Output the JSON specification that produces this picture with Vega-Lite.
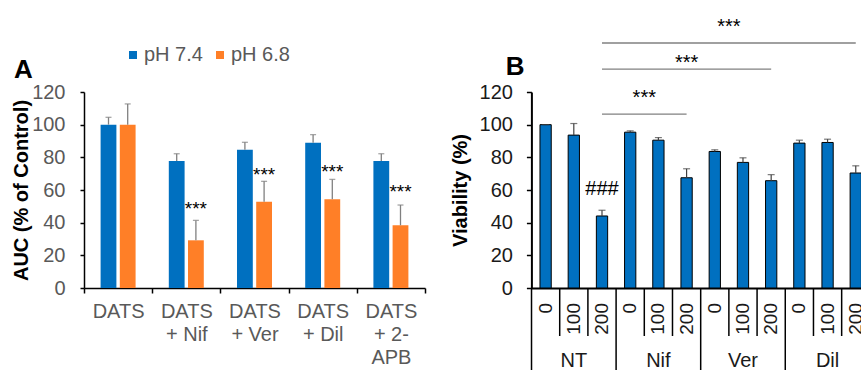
{
  "$schema": "https://vega.github.io/schema/vega-lite/v6.json",
  "background": "white",
  "padding": {"left": 11, "top": 16, "right": 0, "bottom": 0},
  "bounds": "flush",
  "spacing": 106.4,
  "config": {"font": "Liberation Sans", "view": {"stroke": null}, "axis": {"grid": false, "labelOverlap": false}, "axisY": {"labelOverlap": false}, "axisQuantitative": {"labelOverlap": false}},
  "datasets": {
    "auc": [
      {"g": "DATS", "ph": "pH 7.4", "v": 100, "hi": 104.5},
      {"g": "DATS", "ph": "pH 6.8", "v": 100, "hi": 112.7},
      {"g": "DATS\n+ Nif", "ph": "pH 7.4", "v": 77.8, "hi": 82.2},
      {"g": "DATS\n+ Nif", "ph": "pH 6.8", "v": 29.2, "hi": 41.4, "star": "***", "sy": 44.8},
      {"g": "DATS\n+ Ver", "ph": "pH 7.4", "v": 84.7, "hi": 89.2},
      {"g": "DATS\n+ Ver", "ph": "pH 6.8", "v": 52.8, "hi": 65.3, "star": "***", "sy": 65.5},
      {"g": "DATS\n+ Dil", "ph": "pH 7.4", "v": 89.0, "hi": 93.9},
      {"g": "DATS\n+ Dil", "ph": "pH 6.8", "v": 54.3, "hi": 66.5, "star": "***", "sy": 67.5},
      {"g": "DATS\n+ 2-\nAPB", "ph": "pH 7.4", "v": 77.8, "hi": 82.2},
      {"g": "DATS\n+ 2-\nAPB", "ph": "pH 6.8", "v": 38.4, "hi": 50.8, "star": "***", "sy": 55.2}
    ],
    "via": [
      {"grp": "NT", "conc": "0", "cat": "NT 0", "v": 100, "hi": 100},
      {"grp": "NT", "conc": "100", "cat": "NT 100", "v": 93.6, "hi": 100.7},
      {"grp": "NT", "conc": "200", "cat": "NT 200", "v": 44.1, "hi": 47.6, "note": "###", "ny": 57},
      {"grp": "Nif", "conc": "0", "cat": "Nif 0", "v": 95.4, "hi": 96.2},
      {"grp": "Nif", "conc": "100", "cat": "Nif 100", "v": 90.5, "hi": 92.1},
      {"grp": "Nif", "conc": "200", "cat": "Nif 200", "v": 67.5, "hi": 73.0},
      {"grp": "Ver", "conc": "0", "cat": "Ver 0", "v": 83.6, "hi": 84.6},
      {"grp": "Ver", "conc": "100", "cat": "Ver 100", "v": 76.9, "hi": 79.7},
      {"grp": "Ver", "conc": "200", "cat": "Ver 200", "v": 65.7, "hi": 69.4},
      {"grp": "Dil", "conc": "0", "cat": "Dil 0", "v": 88.7, "hi": 90.5},
      {"grp": "Dil", "conc": "100", "cat": "Dil 100", "v": 89.1, "hi": 91.1},
      {"grp": "Dil", "conc": "200", "cat": "Dil 200", "v": 70.4, "hi": 74.8}
    ],
    "sig": [
      {"from": "NT 200", "to": "Nif 200", "ly": 106.4, "mid": "Nif 100", "at": "edge", "sy": 112.6, "label": "***"},
      {"from": "NT 200", "to": "Ver 200", "ly": 134, "mid": "Nif 200", "at": "center", "sy": 133.8, "label": "***"},
      {"from": "NT 200", "to": "Dil 200", "ly": 150, "mid": "Ver 100", "at": "edge", "sy": 156.3, "label": "***"}
    ]
  },
  "hconcat": [
    {
      "width": 341,
      "height": 196,
      "title": {"text": "A", "anchor": "start", "frame": "group", "fontSize": 26, "fontWeight": "bold", "color": "#000", "dx": -70, "dy": 22, "offset": 0, "baseline": "alphabetic"},
      "data": {"name": "auc"},
      "encoding": {
        "x": {
          "field": "g", "type": "nominal",
          "scale": {"domain": ["DATS", "DATS\n+ Nif", "DATS\n+ Ver", "DATS\n+ Dil", "DATS\n+ 2-\nAPB"], "paddingInner": 0, "paddingOuter": 0},
          "axis": {"title": null, "labelAngle": 0, "labelExpr": "split(datum.label, '\\n')", "labelFontSize": 20, "labelColor": "#595959", "labelLineHeight": 23.3, "labelPadding": 8, "labelBaseline": "top", "labelOverlap": false, "tickBand": "extent", "tickSize": 5, "tickColor": "#000", "tickWidth": 1.5, "domainColor": "#000", "domainWidth": 1.5}
        },
        "xOffset": {"field": "ph", "type": "nominal", "scale": {"domain": ["pH 7.4", "pH 6.8"], "paddingInner": 0.177, "paddingOuter": 0.865}}
      },
      "layer": [
        {
          "mark": {"type": "bar"},
          "encoding": {
            "y": {"field": "v", "type": "quantitative", "scale": {"domain": [0, 120], "nice": false},
              "axis": {"title": "AUC (% of Control)", "titleFontSize": 20, "titleFontWeight": "bold", "titleColor": "#000", "titlePadding": 0, "tickCount": 7, "labelOverlap": false, "labelFontSize": 20, "labelColor": "#595959", "labelPadding": 15, "tickSize": 4, "tickColor": "#000", "tickWidth": 1.5, "domainColor": "#000", "domainWidth": 1.5}},
            "color": {"field": "ph", "type": "nominal", "scale": {"domain": ["pH 7.4", "pH 6.8"], "range": ["#0070C0", "#FF7F27"]},
              "legend": {"orient": "none", "legendX": 39, "legendY": -47, "direction": "horizontal", "title": null, "symbolType": "square", "symbolSize": 64, "symbolStrokeWidth": 0, "labelFontSize": 20, "labelColor": "#595959", "labelOffset": 1, "columnPadding": 7}}
          }
        },
        {
          "mark": {"type": "rule", "color": "#808080", "strokeWidth": 1.3},
          "encoding": {"y": {"field": "v", "type": "quantitative"}, "y2": {"field": "hi"}}
        },
        {
          "mark": {"type": "tick", "color": "#808080", "thickness": 1.3, "size": 6, "orient": "horizontal"},
          "encoding": {"y": {"field": "hi", "type": "quantitative"}}
        },
        {
          "transform": [{"filter": "datum.star"}],
          "mark": {"type": "text", "fontSize": 19, "color": "#000", "baseline": "alphabetic"},
          "encoding": {"y": {"field": "sy", "type": "quantitative"}, "text": {"field": "star"}}
        }
      ]
    },
    {
      "width": 330,
      "height": 196,
      "title": {"text": "B", "anchor": "start", "frame": "group", "fontSize": 26, "fontWeight": "bold", "color": "#000", "dx": -25.7, "dy": 84, "offset": 0, "baseline": "alphabetic"},
      "data": {"name": "via"},
      "encoding": {
        "x": {
          "field": "cat", "type": "nominal",
          "scale": {"domain": ["NT 0", "NT 100", "NT 200", "Nif 0", "Nif 100", "Nif 200", "Ver 0", "Ver 100", "Ver 200", "Dil 0", "Dil 100", "Dil 200"], "paddingInner": 0.6, "paddingOuter": 0.152, "align": 1},
          "axis": {"title": null, "labels": false, "ticks": false, "domainColor": "#000", "domainWidth": 2}
        }
      },
      "layer": [
        {
          "mark": {"type": "bar", "color": "#0070C0", "stroke": "#000", "strokeWidth": 1},
          "encoding": {
            "y": {"field": "v", "type": "quantitative", "scale": {"domain": [0, 120], "nice": false},
              "axis": {"title": "Viability (%)", "titleFontSize": 20, "titleFontWeight": "bold", "titleColor": "#000", "titlePadding": 9, "tickCount": 7, "labelOverlap": false, "labelFontSize": 20, "labelColor": "#1a1a1a", "labelPadding": 14, "tickSize": 5, "tickColor": "#000", "tickWidth": 1.5, "domainColor": "#000", "domainWidth": 2}}
          }
        },
        {
          "mark": {"type": "rule", "color": "#404040", "strokeWidth": 1.2},
          "encoding": {"y": {"field": "v", "type": "quantitative"}, "y2": {"field": "hi"}}
        },
        {
          "mark": {"type": "tick", "color": "#404040", "thickness": 1.2, "size": 7, "orient": "horizontal"},
          "encoding": {"y": {"field": "hi", "type": "quantitative"}}
        },
        {
          "transform": [{"filter": "datum.note"}],
          "mark": {"type": "text", "fontSize": 20, "color": "#000", "baseline": "alphabetic"},
          "encoding": {"y": {"field": "ny", "type": "quantitative"}, "text": {"field": "note"}}
        },
        {
          "mark": {"type": "text", "angle": 270, "align": "right", "baseline": "middle", "fontSize": 19, "color": "#1a1a1a"},
          "encoding": {"y": {"datum": -9.2, "type": "quantitative"}, "text": {"field": "conc"}}
        },
        {
          "transform": [{"filter": "datum.conc != '0'"}],
          "mark": {"type": "rule", "color": "#000", "strokeWidth": 1.5},
          "encoding": {"x": {"field": "cat", "type": "nominal", "bandPosition": -0.75}, "y": {"datum": 0, "type": "quantitative"}, "y2": {"datum": -29.4}}
        },
        {
          "transform": [{"filter": "datum.conc == '0'"}],
          "mark": {"type": "rule", "color": "#000", "strokeWidth": 1.5},
          "encoding": {"x": {"field": "cat", "type": "nominal", "bandPosition": -0.75}, "y": {"datum": 0, "type": "quantitative"}, "y2": {"datum": -50.5}}
        },
        {
          "transform": [{"filter": "datum.conc == '100'"}],
          "mark": {"type": "text", "baseline": "middle", "fontSize": 20, "color": "#1a1a1a"},
          "encoding": {"y": {"datum": -44.7, "type": "quantitative"}, "text": {"field": "grp"}}
        },
        {
          "data": {"name": "sig"},
          "mark": {"type": "rule", "color": "#808080", "strokeWidth": 1.3},
          "encoding": {"x": {"field": "from", "type": "nominal", "bandPosition": 0.5}, "x2": {"field": "to", "bandPosition": 0.5}, "y": {"field": "ly", "type": "quantitative"}}
        },
        {
          "data": {"name": "sig"},
          "transform": [{"filter": "datum.at == 'edge'"}],
          "mark": {"type": "text", "fontSize": 20, "color": "#000", "baseline": "alphabetic"},
          "encoding": {"x": {"field": "mid", "type": "nominal", "bandPosition": -0.75}, "y": {"field": "sy", "type": "quantitative"}, "text": {"field": "label"}}
        },
        {
          "data": {"name": "sig"},
          "transform": [{"filter": "datum.at == 'center'"}],
          "mark": {"type": "text", "fontSize": 20, "color": "#000", "baseline": "alphabetic"},
          "encoding": {"x": {"field": "mid", "type": "nominal", "bandPosition": 0.5}, "y": {"field": "sy", "type": "quantitative"}, "text": {"field": "label"}}
        }
      ]
    }
  ]
}
